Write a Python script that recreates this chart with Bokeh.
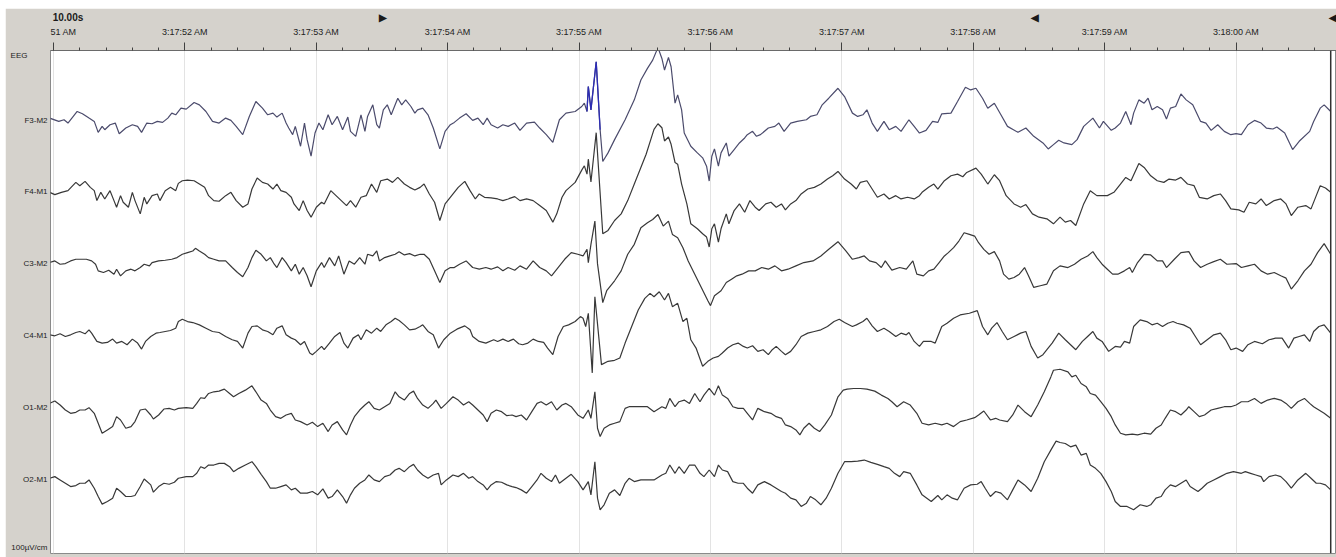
from bokeh.plotting import figure
from bokeh.models import Range1d, FixedTicker, LinearAxis, Span, Spacer
from bokeh.layouts import column, row
from bokeh.embed import file_html
from bokeh.resources import INLINE

# ---------------- data ----------------
# time in seconds after 3:17:51 AM, amplitude in µV (positive = up)
TICK_SECONDS = [0, 1, 2, 3, 4, 5, 6, 7, 8, 9]
TICK_LABELS = ["3:17:51 AM", "3:17:52 AM", "3:17:53 AM", "3:17:54 AM", "3:17:55 AM",
               "3:17:56 AM", "3:17:57 AM", "3:17:58 AM", "3:17:59 AM", "3:18:00 AM"]
EPOCH_LABEL = "10.00s"
SCALE_LABEL = "100µV/cm"
GROUP_LABEL = "EEG"
MARKER_TIMES = [2.51, 7.47, 9.745]
MARKER_SYMBOLS = ["\u25b6", "\u25c0", "\u25c0"]
CURSOR_TIME = 9.72
CHANNELS = ["F3-M2", "F4-M1", "C3-M2", "C4-M1", "O1-M2", "O2-M1"]

F3_M2 = [(-0.03,6),(0.04,-4),(0.08,1),(0.11,-9),(0.18,26),(0.22,19),(0.27,6),(0.31,-4),(0.34,-37),(0.37,-19),
 (0.39,-29),(0.43,-14),(0.47,-9),(0.50,-41),(0.55,-24),(0.60,-14),(0.64,-19),(0.67,-37),(0.71,-9),(0.75,-11),
 (0.79,-4),(0.83,-7),(0.87,6),(0.90,21),(0.93,16),(0.97,36),(1.01,33),(1.07,53),(1.11,46),(1.16,26),
 (1.21,-4),(1.26,-9),(1.31,6),(1.35,-1),(1.39,-19),(1.44,-44),(1.49,11),(1.54,56),(1.59,36),(1.63,16),
 (1.67,21),(1.70,9),(1.74,21),(1.77,-9),(1.79,-24),(1.82,-44),(1.84,-19),(1.88,-79),(1.91,-9),(1.93,-59),
 (1.96,-109),(1.99,-39),(2.02,-9),(2.05,-29),(2.09,16),(2.12,-14),(2.16,11),(2.20,-29),(2.24,9),(2.26,-34),
 (2.30,-49),(2.34,16),(2.37,-34),(2.39,11),(2.43,46),(2.46,-14),(2.48,-24),(2.51,31),(2.54,46),(2.57,16),
 (2.60,46),(2.62,66),(2.65,46),(2.68,61),(2.72,41),(2.75,21),(2.77,31),(2.81,36),(2.85,16),(2.89,-24),
 (2.94,-87),(2.98,-34),(3.02,-14),(3.05,-7),(3.09,6),(3.14,19),(3.19,-1),(3.23,6),(3.27,-14),
 (3.30,6),(3.33,-14),(3.38,-24),(3.42,-14),(3.46,-19),(3.51,-9),(3.55,-31),(3.60,-9),(3.66,-6),(3.70,-24),
 (3.75,-44),(3.80,-67),(3.85,1),(3.90,21),(3.97,26),(4.02,41),(4.04,51),(4.06,26),(4.07,101),(4.09,31),
 (4.13,176),(4.16,-29),(4.18,-125),(4.22,-99),(4.27,-59),(4.35,1),(4.42,61),(4.47,121),(4.52,156),(4.56,181),
 (4.60,219),(4.63,186),(4.65,151),(4.68,189),(4.70,161),(4.73,51),(4.75,76),(4.78,31),(4.80,-39),(4.85,-79),
 (4.90,-99),(4.94,-114),(4.97,-139),(4.99,-184),(5.01,-109),(5.03,-87),(5.06,-139),(5.08,-99),(5.12,-69),(5.14,-109),
 (5.18,-89),(5.22,-69),(5.26,-54),(5.28,-44),(5.32,-34),(5.35,-49),(5.38,-44),(5.44,-24),(5.49,-19),(5.52,-9),
 (5.56,-34),(5.61,-9),(5.66,-4),(5.73,1),(5.76,11),(5.81,16),(5.85,46),(5.90,66),(5.97,96),(6.02,71),
 (6.08,21),(6.12,11),(6.16,16),(6.19,31),(6.23,-9),(6.27,-34),(6.32,-4),(6.36,-29),(6.41,-19),(6.45,-34),
 (6.51,1),(6.55,-19),(6.59,-39),
 (6.64,-31),(6.69,-4),(6.73,-7),(6.76,19),(6.83,21),(6.88,56),(6.94,99),(6.98,91),(7.02,96),(7.07,66),
 (7.11,36),(7.16,51),(7.21,16),(7.26,-19),(7.34,-37),(7.40,-24),(7.46,-49),(7.53,-69),(7.57,-87),(7.61,-74),
 (7.65,-61),(7.69,-69),(7.75,-74),(7.79,-59),(7.84,-19),(7.91,6),(7.96,-24),(7.99,-4),(8.05,-31),(8.08,-24),
 (8.12,-9),(8.16,26),(8.20,-14),(8.22,21),(8.26,61),(8.30,51),(8.33,66),(8.36,31),(8.40,41),(8.44,31),
 (8.47,3),(8.50,36),(8.54,41),(8.58,79),(8.62,61),(8.67,46),(8.73,-4),(8.77,-9),(8.81,-31),(8.86,-14),
 (8.91,-34),(8.96,-44),(9.00,-41),(9.04,-44),(9.09,-14),(9.14,-1),(9.19,-9),(9.23,-24),(9.28,-27),(9.31,-21),
 (9.37,-39),(9.43,-89),(9.48,-64),(9.56,-34),(9.59,-4),(9.64,36),(9.67,46),(9.72,26)]

F4_M1 = [(-0.03,-1),(0.01,-8),(0.06,-1),(0.11,4),(0.17,29),(0.20,19),(0.24,32),(0.28,14),(0.31,4),(0.33,-26),
 (0.36,-1),(0.39,-21),(0.43,4),(0.46,-26),(0.48,-46),(0.51,-11),(0.53,-31),(0.57,-46),(0.60,-1),(0.62,-26),
 (0.66,-66),(0.69,-16),(0.71,-36),(0.75,-11),(0.79,-6),(0.81,-26),(0.85,4),(0.89,14),(0.93,4),(0.95,26),
 (0.98,34),(1.02,36),(1.07,34),(1.11,24),(1.15,14),(1.18,-11),(1.22,-26),(1.26,-28),(1.31,-11),(1.35,-1),
 (1.39,-26),(1.44,-46),(1.48,-36),(1.51,9),(1.55,42),(1.59,29),(1.63,24),(1.67,9),(1.70,24),(1.73,4),
 (1.77,-1),(1.81,-16),(1.83,-36),(1.87,-56),(1.90,-26),(1.93,-56),(1.96,-76),(2.00,-46),(2.04,-31),(2.06,-36),
 (2.11,4),(2.15,-11),(2.19,-26),(2.23,-41),(2.26,-26),(2.30,-46),(2.34,-16),(2.38,-11),(2.42,24),(2.46,-1),
 (2.49,34),(2.54,39),(2.58,29),(2.62,44),(2.67,24),(2.71,14),(2.75,6),(2.79,14),(2.82,24),(2.86,-6),
 (2.90,-31),(2.94,-86),(2.98,-36),(3.03,-11),(3.08,14),(3.13,32),(3.17,4),(3.21,-21),(3.24,-6),(3.28,-16),
 (3.33,-18),(3.38,-21),(3.42,-26),(3.46,-21),(3.51,-14),(3.55,-26),(3.60,-21),(3.65,-26),(3.70,-41),(3.75,-56),
 (3.80,-91),(3.83,-66),(3.87,-16),(3.90,4),(3.97,29),(4.02,66),(4.04,79),(4.06,54),(4.07,99),(4.09,30),
 (4.13,179),(4.18,-126),(4.22,-116),(4.27,-86),(4.32,-66),(4.37,-26),(4.42,24),(4.47,74),(4.51,114),(4.55,164),
 (4.57,189),(4.60,206),(4.63,194),(4.65,154),(4.68,166),(4.70,144),(4.73,89),(4.75,84),(4.78,24),(4.82,-36),
 (4.85,-96),(4.90,-111),(4.94,-126),(4.97,-136),(4.99,-166),(5.01,-111),(5.03,-96),(5.06,-151),(5.08,-111),(5.12,-66),
 (5.14,-96),(5.18,-56),(5.22,-36),(5.26,-61),(5.30,-26),(5.34,-46),(5.37,-56),(5.42,-36),(5.46,-31),(5.50,-46),
 (5.54,-36),(5.57,-54),(5.61,-36),(5.65,-26),(5.69,-6),(5.74,9),(5.79,14),(5.84,24),(5.89,39),(5.93,49),
 (5.97,62),(6.02,39),(6.07,24),(6.11,9),(6.14,29),(6.19,34),(6.23,9),(6.27,-16),(6.32,-6),(6.36,-21),
 (6.41,-11),(6.45,-21),(6.50,-16),(6.55,-21),(6.59,-11),
 (6.61,-1),(6.66,14),(6.70,24),(6.73,9),(6.78,34),(6.83,49),(6.88,54),(6.92,46),(6.95,59),(7.02,72),
 (7.06,54),(7.11,24),(7.16,52),(7.20,34),(7.25,-11),(7.31,-36),(7.36,-46),(7.40,-38),(7.45,-66),(7.50,-76),
 (7.56,-81),(7.61,-96),(7.66,-76),(7.70,-91),(7.74,-86),(7.78,-101),(7.84,-36),(7.89,4),(7.94,-11),(8.02,-11),
 (8.07,-1),(8.12,24),(8.16,44),(8.20,34),(8.26,86),(8.30,74),(8.35,49),(8.40,34),(8.45,29),(8.49,39),
 (8.54,36),(8.58,44),(8.63,24),(8.68,19),(8.72,-16),(8.78,-21),(8.83,-11),(8.88,-6),(8.92,-26),(8.96,-51),
 (9.02,-54),(9.06,-61),(9.10,-31),(9.15,-36),(9.19,-21),(9.23,-41),(9.29,-26),(9.34,-21),(9.38,-36),(9.42,-71),
 (9.47,-46),(9.53,-41),(9.57,-51),(9.61,-11),(9.64,19),(9.68,12),(9.72,-1)]

C3_M2 = [(-0.03,4),(0.01,9),(0.05,-1),(0.09,1),(0.13,9),(0.17,14),(0.22,14),(0.25,14),(0.29,9),(0.32,-1),
 (0.34,-21),(0.38,-26),(0.42,-19),(0.46,-31),(0.48,-16),(0.51,-36),(0.55,-21),(0.59,-16),(0.62,-21),(0.66,-11),
 (0.69,-1),(0.73,-6),(0.75,4),(0.80,9),(0.85,11),(0.90,14),(0.94,19),(0.98,29),(1.02,34),(1.06,39),
 (1.08,47),(1.11,39),(1.15,29),(1.18,19),(1.22,14),(1.26,9),(1.31,9),(1.36,-11),(1.40,-26),(1.44,-39),
 (1.48,-11),(1.51,19),(1.54,41),(1.58,29),(1.62,9),(1.65,19),(1.68,-1),(1.70,-11),(1.74,19),(1.77,4),
 (1.81,-21),(1.84,-1),(1.87,-31),(1.90,-11),(1.93,-36),(1.96,-69),(2.00,-21),(2.04,4),(2.06,-11),(2.10,19),
 (2.14,-6),(2.17,24),(2.21,-31),(2.25,9),(2.29,-1),(2.33,19),(2.37,-1),(2.39,29),(2.43,24),(2.46,39),
 (2.48,9),(2.52,19),(2.56,24),(2.60,29),(2.63,37),(2.67,27),(2.71,31),(2.75,24),(2.79,29),(2.82,29),
 (2.86,14),(2.90,-21),(2.94,-56),(2.98,-21),(3.02,-11),(3.05,-11),(3.09,-1),(3.14,9),(3.19,-11),(3.24,-16),
 (3.29,-11),(3.33,-16),(3.38,-9),(3.42,-21),(3.46,-11),(3.51,-19),(3.55,-6),(3.60,-16),(3.65,9),(3.70,-11),
 (3.75,-21),(3.79,-36),(3.84,-11),(3.89,14),(3.94,34),(3.99,29),(4.03,24),(4.06,44),(4.07,4),(4.09,59),
 (4.12,129),(4.14,0),(4.18,-117),(4.21,-81),(4.27,-51),(4.32,-21),(4.37,29),(4.42,59),(4.47,109),(4.52,124),
 (4.56,134),(4.60,149),(4.64,114),(4.68,129),(4.71,89),(4.75,79),(4.79,49),(4.83,9),(4.88,-31),(4.93,-71),
 (4.98,-111),(5.00,-126),(5.03,-96),(5.08,-81),(5.12,-56),(5.16,-46),(5.20,-36),(5.24,-31),(5.29,-21),(5.34,-21),
 (5.39,-11),(5.44,-16),(5.49,-6),(5.54,-21),(5.59,-16),(5.65,-6),(5.71,4),(5.78,9),(5.84,24),(5.90,44),
 (5.97,67),(6.03,39),(6.08,14),(6.13,19),(6.17,24),(6.21,9),(6.26,4),(6.30,-11),(6.33,9),(6.38,-19),
 (6.44,-11),(6.49,-16),(6.54,9),(6.57,-31),
 (6.62,-36),(6.66,-21),(6.70,-16),(6.74,4),(6.78,24),(6.81,34),(6.85,49),(6.89,69),(6.93,94),(6.97,89),
 (7.01,84),(7.04,64),(7.08,44),(7.12,29),(7.16,37),(7.20,9),(7.23,-31),(7.27,-46),(7.31,-41),(7.35,-31),
 (7.39,-11),(7.42,-36),(7.46,-71),(7.51,-66),(7.56,-61),(7.61,-21),(7.66,-6),(7.72,-11),(7.77,-1),(7.82,14),
 (7.87,24),(7.91,37),(7.94,19),(7.98,-1),(8.02,-16),(8.06,-31),(8.10,-31),(8.15,-21),(8.19,-11),(8.21,-26),
 (8.25,4),(8.30,29),(8.35,27),(8.40,9),(8.44,9),(8.47,-11),(8.53,14),(8.58,34),(8.64,37),(8.68,9),
 (8.73,-11),(8.78,-1),(8.83,7),(8.88,14),(8.93,-1),(9.00,1),(9.04,-11),(9.09,-6),(9.14,-1),(9.19,-21),
 (9.24,-31),(9.29,-26),(9.34,-36),(9.38,-43),(9.42,-76),(9.47,-51),(9.52,-21),(9.57,-1),(9.62,34),(9.67,61),
 (9.72,29)]

C4_M1 = [(-0.03,3),(0.01,0),(0.05,6),(0.09,-2),(0.13,3),(0.17,10),(0.20,13),(0.24,6),(0.27,18),(0.29,8),
 (0.33,-17),(0.37,-22),(0.41,-20),(0.45,-10),(0.48,-22),(0.52,-17),(0.56,-27),(0.60,-10),(0.64,-22),(0.67,-40),
 (0.70,-17),(0.74,-2),(0.78,8),(0.81,10),(0.85,13),(0.89,16),(0.93,23),(0.95,43),(0.98,50),(1.02,43),
 (1.06,40),(1.11,33),(1.16,23),(1.21,13),(1.26,10),(1.31,-2),(1.36,-12),(1.40,-17),(1.44,-37),(1.48,8),
 (1.51,28),(1.55,30),(1.59,18),(1.63,13),(1.67,3),(1.70,23),(1.74,30),(1.77,3),(1.81,-7),(1.84,-12),
 (1.88,-27),(1.91,-17),(1.95,-52),(1.97,-57),(2.00,-47),(2.04,-32),(2.06,-42),(2.10,-22),(2.14,-2),(2.18,10),
 (2.21,-22),(2.24,-37),(2.28,-7),(2.32,3),(2.34,-12),(2.38,18),(2.42,8),(2.46,23),(2.49,13),(2.53,33),
 (2.57,43),(2.60,53),(2.63,46),(2.67,33),(2.71,18),(2.75,20),(2.79,28),(2.81,33),(2.85,13),(2.89,3),
 (2.93,-37),(2.97,-12),(3.02,8),(3.07,20),(3.13,30),(3.17,18),(3.19,-2),(3.24,-17),(3.29,-22),
 (3.35,-12),(3.38,-17),(3.42,-10),(3.46,-17),(3.50,-10),(3.54,-24),(3.57,-27),(3.61,-22),(3.65,-10),(3.69,-17),
 (3.73,-20),(3.76,-37),(3.80,-57),(3.84,-2),(3.88,28),(3.92,33),(3.97,43),(4.01,58),(4.03,53),(4.05,28),
 (4.07,68),(4.10,-112),(4.12,118),(4.17,-87),(4.22,-77),(4.27,-74),(4.31,-67),(4.35,-22),(4.40,28),(4.45,78),
 (4.50,113),(4.54,128),(4.57,118),(4.61,133),(4.65,108),(4.68,128),(4.71,88),(4.75,98),(4.79,43),(4.82,53),
 (4.85,-12),(4.89,-37),(4.94,-92),(4.98,-77),(5.02,-67),(5.06,-62),(5.09,-52),(5.13,-37),(5.17,-27),(5.21,-22),
 (5.25,-32),(5.28,-37),(5.32,-30),(5.36,-47),(5.40,-42),(5.44,-57),(5.47,-42),(5.50,-32),(5.54,-47),(5.57,-57),
 (5.61,-47),(5.65,-27),(5.69,-2),(5.74,8),(5.79,13),(5.84,18),(5.89,28),(5.94,43),(5.98,50),(6.02,40),
 (6.08,28),(6.11,33),(6.16,43),(6.19,53),(6.23,30),(6.27,13),(6.32,23),(6.36,13),(6.41,-2),(6.45,8),
 (6.49,3),(6.51,10),(6.55,-17),(6.59,-32),
 (6.62,-17),(6.68,-17),(6.71,-22),(6.76,28),(6.80,38),(6.85,53),(6.90,63),(6.97,68),(7.03,76),(7.07,28),
 (7.11,3),(7.14,23),(7.18,40),(7.22,13),(7.26,-12),(7.31,-2),(7.36,8),(7.40,13),(7.44,-32),(7.49,-67),
 (7.53,-57),(7.56,-42),(7.60,-22),(7.65,8),(7.70,-12),(7.74,-27),(7.78,-42),(7.83,-17),(7.87,-2),(7.91,13),
 (7.94,-7),(7.98,-17),(8.03,-47),(8.08,-32),(8.12,-34),(8.15,-17),(8.19,-22),(8.22,28),(8.27,48),(8.32,43),
 (8.36,33),(8.40,38),(8.44,28),(8.48,38),(8.52,43),(8.55,38),(8.60,33),(8.65,23),(8.69,-2),(8.73,-27),
 (8.78,-12),(8.83,3),(8.88,8),(8.92,-12),(8.96,-42),(9.00,-37),(9.05,-47),(9.09,-27),(9.14,-17),(9.20,-24),
 (9.25,-12),(9.30,-7),(9.35,-7),(9.40,-37),(9.44,-7),(9.48,-2),(9.52,3),(9.56,-17),(9.59,13),(9.63,28),
 (9.67,33),(9.72,8)]

O1_M2 = [(-0.03,13),(0.01,20),(0.05,8),(0.09,-7),(0.13,-17),(0.17,-14),(0.20,-7),(0.24,-7),(0.27,0),(0.31,-17),
 (0.34,-47),(0.37,-77),(0.41,-67),(0.45,-57),(0.48,-27),(0.51,-37),(0.55,-62),(0.59,-57),(0.62,-42),(0.66,-7),
 (0.70,-4),(0.74,-22),(0.76,-34),(0.80,-22),(0.84,-4),(0.88,-2),(0.92,-7),(0.95,-2),(1.01,0),(1.06,-2),
 (1.09,13),(1.12,30),(1.15,28),(1.18,43),(1.22,48),(1.26,50),(1.30,56),(1.34,43),(1.37,33),(1.41,43),
 (1.46,53),(1.51,66),(1.54,48),(1.58,23),(1.62,13),(1.65,-7),(1.69,-27),(1.73,-32),(1.77,-22),(1.81,-17),
 (1.84,-37),(1.88,-42),(1.93,-52),(1.97,-44),(2.01,-57),(2.05,-47),(2.09,-72),(2.12,-52),(2.16,-42),(2.20,-67),
 (2.23,-82),(2.26,-52),(2.29,-27),(2.33,-7),(2.37,8),(2.40,18),(2.44,-2),(2.48,-7),(2.52,3),(2.56,13),
 (2.60,48),(2.63,33),(2.67,23),(2.71,43),(2.74,50),(2.77,28),(2.81,8),(2.85,-2),(2.89,13),(2.91,23),
 (2.95,-2),(2.99,13),(3.04,33),(3.08,23),(3.12,8),(3.16,18),(3.19,8),(3.23,-7),(3.27,-22),(3.30,-42),
 (3.33,-17),(3.37,-7),(3.41,-12),(3.45,-24),(3.49,-22),(3.52,-27),(3.56,-22),(3.60,-37),(3.64,-12),(3.68,13),
 (3.71,18),(3.75,8),(3.79,18),(3.83,-7),(3.87,8),(3.90,13),(3.94,3),(3.99,-22),(4.03,-32),(4.07,-7),
 (4.09,-32),(4.12,48),(4.14,-62),(4.16,-87),(4.19,-62),(4.23,-52),(4.27,-47),(4.31,-42),(4.35,-2),(4.38,3),
 (4.42,3),(4.47,3),(4.52,3),(4.57,-12),(4.63,3),(4.66,-2),(4.69,28),(4.73,3),(4.76,18),(4.80,23),
 (4.84,13),(4.88,43),(4.92,18),(4.95,38),(4.99,58),(5.03,38),(5.06,66),(5.09,38),(5.13,28),(5.17,3),
 (5.21,-2),(5.25,-2),(5.28,-17),(5.32,-37),(5.36,-2),(5.41,-12),(5.46,-17),(5.50,-27),(5.54,-32),(5.57,-52),
 (5.61,-57),(5.65,-67),(5.68,-82),(5.71,-62),(5.75,-47),(5.79,-62),(5.83,-72),(5.87,-52),(5.92,-22),(5.97,33),
 (6.01,53),(6.04,56),(6.09,58),(6.14,58),(6.19,56),(6.25,50),(6.30,38),(6.35,28),(6.38,18),(6.42,3),
 (6.47,18),(6.52,8),(6.57,-17),
 (6.61,-47),(6.66,-52),(6.71,-47),(6.76,-52),(6.80,-47),(6.85,-57),(6.90,-42),(6.95,-37),(7.01,-30),(7.04,-22),
 (7.08,-10),(7.13,-37),(7.17,-32),(7.20,-37),(7.26,-42),(7.30,-22),(7.34,8),(7.39,-12),(7.44,-27),(7.49,8),
 (7.54,48),(7.59,93),(7.61,113),(7.66,116),(7.72,108),(7.75,93),(7.78,98),(7.82,73),(7.86,63),(7.89,43),
 (7.93,38),(7.97,18),(8.01,-2),(8.05,-27),(8.08,-52),(8.12,-77),(8.16,-82),(8.21,-80),(8.25,-82),(8.30,-77),
 (8.35,-80),(8.39,-62),(8.43,-52),(8.46,-32),(8.50,-7),(8.54,-12),(8.58,-22),(8.62,-7),(8.64,3),(8.68,-12),
 (8.72,-27),(8.76,-22),(8.81,-7),(8.86,-2),(8.91,3),(8.96,3),(9.00,8),(9.04,18),(9.09,18),(9.14,28),
 (9.19,13),(9.24,23),(9.29,28),(9.34,23),(9.38,13),(9.42,-2),(9.47,18),(9.52,28),(9.56,13),(9.59,3),
 (9.63,-7),(9.67,-17),(9.72,-32)]

O2_M1 = [(-0.03,4),(0.01,9),(0.05,-1),(0.09,-11),(0.13,-21),(0.17,-18),(0.20,-11),(0.24,-11),(0.27,-1),(0.31,-26),
 (0.34,-51),(0.37,-74),(0.41,-66),(0.45,-56),(0.48,-26),(0.51,-36),(0.55,-51),(0.59,-51),(0.62,-48),(0.66,-21),
 (0.69,2),(0.74,-16),(0.76,-38),(0.80,-21),(0.84,-11),(0.88,-14),(0.92,-8),(0.95,4),(1.01,9),(1.06,9),
 (1.09,19),(1.12,39),(1.15,34),(1.18,44),(1.22,44),(1.26,49),(1.30,49),(1.34,39),(1.37,24),(1.41,34),
 (1.46,44),(1.51,54),(1.54,39),(1.58,16),(1.62,-6),(1.65,-26),(1.69,-26),(1.73,-21),(1.77,-16),(1.81,-31),
 (1.84,-26),(1.88,-41),(1.93,-41),(1.97,-36),(2.01,-46),(2.05,-28),(2.09,-56),(2.12,-51),(2.16,-31),(2.20,-51),
 (2.23,-71),(2.26,-46),(2.29,-26),(2.33,-11),(2.37,-1),(2.40,14),(2.44,-1),(2.48,-6),(2.52,9),(2.56,14),
 (2.60,29),(2.63,34),(2.67,24),(2.71,39),(2.74,46),(2.77,29),(2.81,14),(2.85,4),(2.89,14),(2.93,19),
 (2.95,-16),(2.99,-1),(3.04,14),(3.08,9),(3.12,19),(3.16,4),(3.19,9),(3.23,-6),(3.27,-16),(3.30,-31),
 (3.33,-16),(3.37,-6),(3.41,-8),(3.45,-16),(3.49,-21),(3.52,-24),(3.56,-31),(3.60,-41),(3.64,-21),(3.68,-1),
 (3.71,19),(3.75,4),(3.79,-6),(3.82,14),(3.85,-11),(3.90,4),(3.94,16),(3.99,-6),(4.03,-31),(4.07,-6),
 (4.09,-46),(4.12,54),(4.14,-56),(4.16,-91),(4.19,-76),(4.23,-41),(4.27,-31),(4.31,-48),(4.35,-11),(4.38,4),
 (4.42,-6),(4.47,-1),(4.52,-1),(4.57,-1),(4.63,14),(4.66,19),(4.69,44),(4.73,19),(4.76,39),(4.80,19),
 (4.84,44),(4.88,44),(4.92,19),(4.95,9),(4.99,29),(5.03,9),(5.06,44),(5.09,29),(5.13,24),(5.17,-6),
 (5.21,-11),(5.25,-11),(5.28,-26),(5.32,-41),(5.36,-16),(5.41,-6),(5.46,-16),(5.50,-26),(5.54,-36),(5.57,-41),
 (5.61,-56),(5.65,-61),(5.69,-81),(5.73,-71),(5.76,-51),(5.80,-61),(5.84,-76),(5.88,-56),(5.92,-26),(5.97,19),
 (6.02,54),(6.07,54),(6.12,56),(6.17,59),(6.22,52),(6.27,46),(6.32,39),(6.36,34),(6.40,19),(6.44,9),
 (6.47,24),(6.52,19),(6.57,-16),
 (6.61,-46),(6.68,-66),(6.73,-48),(6.76,-61),(6.80,-46),(6.84,-56),(6.88,-61),(6.93,-26),(6.98,-16),(7.03,-14),
 (7.06,-6),(7.09,-26),(7.13,-51),(7.17,-36),(7.21,-41),(7.26,-61),(7.30,-31),(7.34,-1),(7.39,-16),(7.44,-36),
 (7.49,4),(7.54,54),(7.59,89),(7.63,116),(7.66,112),(7.70,109),(7.74,99),(7.78,104),(7.82,74),(7.86,79),
 (7.89,44),(7.93,34),(7.97,19),(8.01,-6),(8.05,-36),(8.08,-66),(8.12,-81),(8.17,-81),(8.22,-91),(8.27,-76),
 (8.32,-81),(8.35,-76),(8.39,-56),(8.43,-51),(8.46,-31),(8.50,-16),(8.54,-21),(8.58,-11),(8.62,-1),(8.65,-21),
 (8.71,-36),(8.74,-26),(8.78,-11),(8.83,-1),(8.88,9),(8.93,19),(8.98,24),(9.04,19),(9.07,24),(9.11,19),
 (9.15,14),(9.19,9),(9.21,-6),(9.25,9),(9.30,14),(9.34,9),(9.38,-6),(9.42,-26),(9.47,-1),(9.53,19),
 (9.57,4),(9.61,-11),(9.64,-11),(9.68,-16),(9.72,-31)]

CHANNEL_DATA = [F3_M2, F4_M1, C3_M2, C4_M1, O1_M2, O2_M1]

# ---------------- styling / layout ----------------
PAGE_W, PAGE_H = 1336, 557
PAD_TOP, PAD_LEFT = 8, 5
W, H = PAGE_W - PAD_LEFT, PAGE_H - PAD_TOP
TOP, BOTTOM, LEFT, RIGHT = 39, 4, 45, 0
SPACING = 217           # µV between channel baselines
PANEL = "#d5d2cc"
FONT = "Liberation Sans"
Y_TOP = 210
Y_BOTTOM = Y_TOP - 3 * (H - TOP - BOTTOM)

offsets = [-i * SPACING for i in range(len(CHANNELS))]
EPOCH_LABEL_AT = 0.11          # header label placement (s)
GROUP_LABEL_AT = Y_TOP - 15    # label placement in side panel
SCALE_LABEL_AT = Y_BOTTOM + 18

p = figure(width=W, height=H, output_backend="svg", toolbar_location=None,
           x_axis_location="above",
           x_range=Range1d(-0.023, 9.764),
           y_range=Range1d(Y_BOTTOM, Y_TOP),
           min_border_left=LEFT, min_border_right=RIGHT,
           min_border_top=TOP, min_border_bottom=BOTTOM,
           border_fill_color=PANEL, background_fill_color="white",
           outline_line_color="#8a8a8a", outline_line_width=1)

# time axis on top
minor = [round(k * 0.2, 1) for k in range(0, 49) if k % 5 != 0]
xt = FixedTicker(ticks=TICK_SECONDS, minor_ticks=minor)
p.xaxis.ticker = xt
overrides = {s: lab for s, lab in zip(TICK_SECONDS, TICK_LABELS)}
overrides[TICK_SECONDS[0]] = "\u00a0" * 8 + TICK_LABELS[0].split(":")[-1]
p.xaxis.major_label_overrides = overrides
p.xaxis.major_label_text_font = FONT
p.xaxis.major_label_text_font_size = "9px"
p.xaxis.major_label_text_color = "#222222"
p.xaxis.major_label_standoff = 6
p.xaxis.axis_line_color = "#6a6a6a"
p.xaxis.major_tick_line_color = "#404040"
p.xaxis.major_tick_out = 8
p.xaxis.major_tick_in = 0
p.xaxis.minor_tick_line_color = "#404040"
p.xaxis.minor_tick_out = 3
p.xaxis.minor_tick_in = 0

# header strip: epoch length and page markers
hdr_ticks = [EPOCH_LABEL_AT] + MARKER_TIMES
hdr = LinearAxis(ticker=FixedTicker(ticks=hdr_ticks, minor_ticks=[]),
                 major_label_overrides={t: s for t, s in zip(hdr_ticks, [EPOCH_LABEL] + MARKER_SYMBOLS)},
                 axis_line_color=None, major_tick_line_color=None, minor_tick_line_color=None,
                 major_tick_out=0, major_tick_in=0, minor_tick_out=0, minor_tick_in=0,
                 major_label_text_font=FONT, major_label_text_font_style="bold",
                 major_label_text_font_size="10px", major_label_text_color="#1a1a1a",
                 major_label_standoff=1)
p.add_layout(hdr, "above")

p.xgrid.ticker = xt
p.xgrid.grid_line_color = "#e3e3e3"
p.ygrid.visible = False

# channel labels on left (plus group and scale labels)
ylab_ticks = [GROUP_LABEL_AT] + offsets + [SCALE_LABEL_AT]
ylab_text = [GROUP_LABEL + "\u00a0" * 9] + CHANNELS + [SCALE_LABEL]
p.yaxis.ticker = FixedTicker(ticks=ylab_ticks, minor_ticks=[])
p.yaxis.major_label_overrides = {o: n for o, n in zip(ylab_ticks, ylab_text)}
p.yaxis.major_label_text_font = FONT
p.yaxis.major_label_text_font_size = "8px"
p.yaxis.major_label_text_color = "#222222"
p.yaxis.axis_line_color = None
p.yaxis.major_tick_line_color = None
p.yaxis.minor_tick_line_color = None
p.yaxis.major_tick_out = 0
p.yaxis.major_tick_in = 0
p.yaxis.minor_tick_out = 0
p.yaxis.major_label_standoff = 3

# traces
for i, (name, data) in enumerate(zip(CHANNELS, CHANNEL_DATA)):
    pts = sorted(data)
    t = [a for a, b in pts]
    v = [b + offsets[i] for a, b in pts]
    color = "#4b4b6c" if i == 0 else "#383838"
    p.line(t, v, line_color=color, line_width=1.2)

# highlighted (selected) part of the first channel's spike
pts = sorted(F3_M2)
hl = [(a, b) for a, b in pts if 4.06 <= a <= 4.16]
p.line([a for a, b in hl], [b + offsets[0] for a, b in hl], line_color="#2c2cb4", line_width=1.3)

# page cursor
p.add_layout(Span(location=CURSOR_TIME, dimension="height", line_color="#303030", line_width=1.5))

layout = column(Spacer(width=PAGE_W, height=PAD_TOP),
                row(Spacer(width=PAD_LEFT, height=H), p, spacing=0), spacing=0)

open("out.html", "w").write(file_html(layout, INLINE))
